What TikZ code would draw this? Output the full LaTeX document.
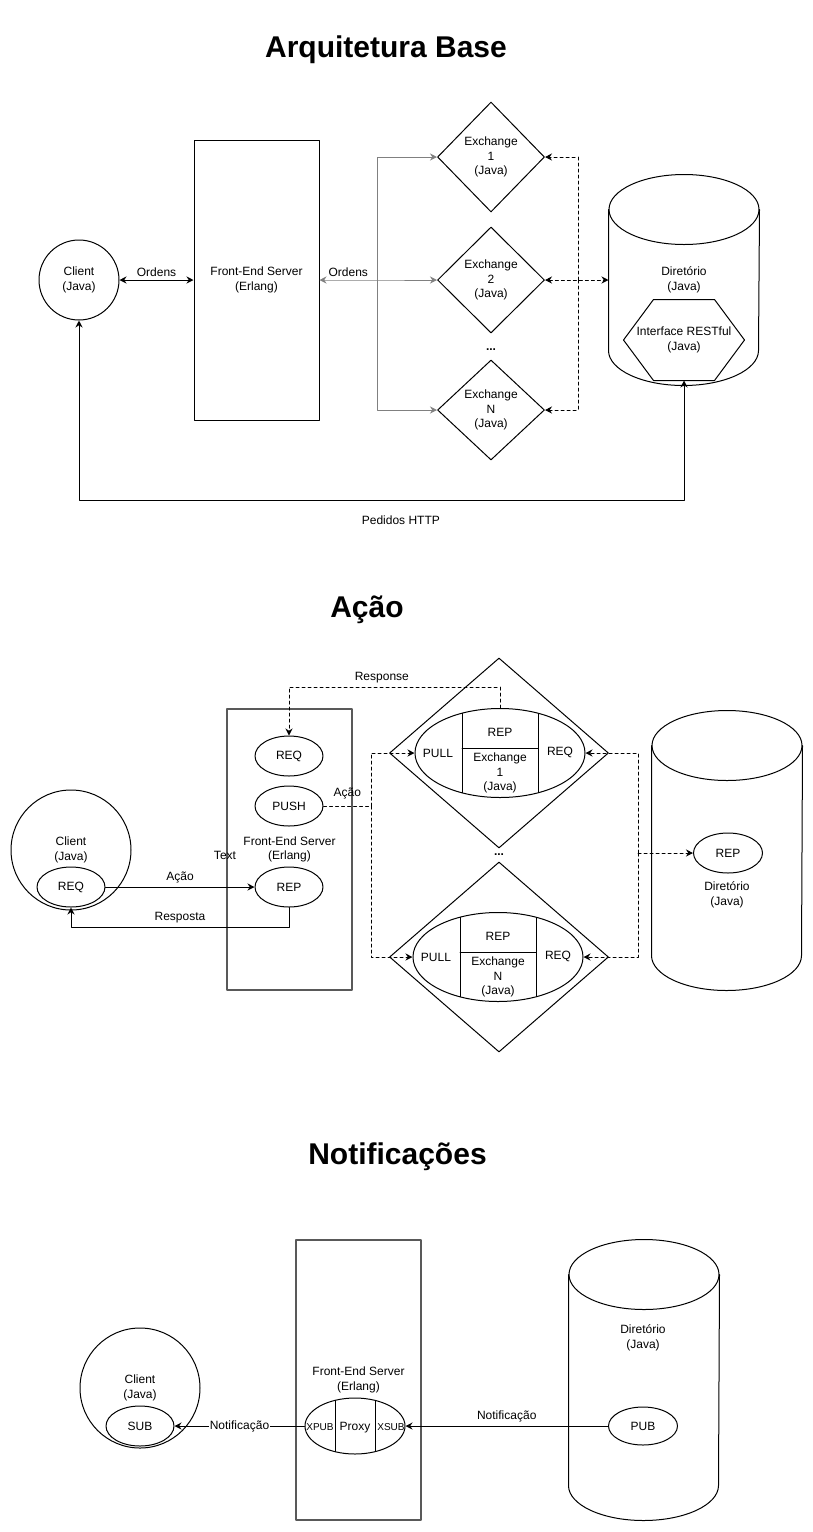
\documentclass[tikz,border=0pt]{standalone}
\usepackage{fontspec}
\setmainfont{Liberation Sans}
\usetikzlibrary{shapes.geometric,positioning,arrows.meta}
\begin{document}
\begin{tikzpicture}[>={Stealth[length=7pt,width=7pt]},line join=round,line cap=round,x=1pt,y=-1pt,line width=1pt,
	font=\fontsize{12}{14.5}\selectfont,
	titulo/.style={font=\fontsize{30}{36}\selectfont\bfseries,anchor=base},
	cliente/.style={draw,circle,minimum size=120pt,inner sep=0pt,align=center},
	servidor/.style={draw,rectangle,minimum width=125pt,minimum height=280pt,inner sep=0pt,align=center},
	caixa/.style={draw=black!65,line width=1.5pt},
	sock/.style={draw,ellipse,minimum width=68pt,minimum height=40pt,inner sep=0pt},
	troca/.style={draw,diamond,inner sep=0pt,align=center},
	cil/.style={rectangle,minimum width=150pt,inner sep=0pt,align=center}]
	\useasboundingbox (0,0) rectangle (812,1532);
	\def\ry{35}
	% Arquitetura Base
	\node[titulo] (tit1) at (386,57) {Arquitetura Base};
	\node[cliente,minimum size=80pt] (cliA) at (79,280) {Client\\(Java)};
	\node[servidor] (fesA) at (256.5,280) {Front-End Server\\(Erlang)};
	\node[troca,minimum width=107pt,minimum height=110pt] (ex1) at (491,157) {Exchange\\1\\(Java)};
	\node[troca,minimum width=107pt,minimum height=106pt] (ex2) at (491,280) {Exchange\\2\\(Java)};
	\node (dots1) at (491,350) {\textbf{...}};
	\node[troca,minimum width=107pt,minimum height=100pt] (exN) at (491,410) {Exchange\\N\\(Java)};
	\node[cil,minimum height=210pt] (dirA) at (684,280) {Diretório\\(Java)};
	\node[minimum width=120pt,minimum height=80pt,inner sep=0pt,align=center] (rest) at (684,340) {Interface RESTful\\(Java)};
	\draw (rest.west)--([xshift=30pt]rest.north west)--([xshift=-30pt]rest.north east)--(rest.east)
		--([xshift=-30pt]rest.south east)--([xshift=30pt]rest.south west)--cycle;
	\coordinate (esq) at (377,280);
	\coordinate (dir) at (578,280);
	\coordinate (http) at (684,500);
	\draw[<->] (cliA) -- node[above]{Ordens} (fesA);
	\draw[<->,gray] (fesA) -- node[above,black]{Ordens} (esq) -- (ex2);
	\draw[->,gray] (esq) |- (ex1);
	\draw[->,gray] (esq) |- (exN);
	\draw[<->,dashed] (ex2) -- (dir) -- (dirA);
	\draw[->,dashed] (dir) |- (ex1);
	\draw[->,dashed] (dir) |- (exN);
	\draw[<->] (cliA) |- node[pos=0.766,below=12pt]{Pedidos HTTP} (http) -- (rest);
	% Ação
	\node[titulo] (tit2) at (367,617) {Ação};
	\node[cliente] (cliB) at (71,850) {Client\\(Java)};
	\node[sock] (reqC) at (71,887) {REQ};
	\node[servidor,caixa,minimum height=281pt] (fesB) at (289.5,849.5) {Front-End Server\\(Erlang)};
	\node (txt) at (225,855) {Text};
	\node[sock] (reqF) at (289,756) {REQ};
	\node[sock] (push) at (289,806) {PUSH};
	\node[sock] (repF) at (289,887) {REP};
	\node[troca,minimum width=219pt,minimum height=190pt] (dm1) at (499,753) {};
	\node[troca,minimum width=219pt,minimum height=190pt] (dmN) at (499,957) {};
	\node (dots2) at (499,855) {\textbf{...}};
	\node[sock,minimum width=170pt,minimum height=89pt] (el1) at (500,753) {};
	\node[sock,minimum width=170pt,minimum height=89pt] (elN) at (498,957) {};
	\foreach \e/\n in {el1/1,elN/N}{
		\begin{scope}
			\clip (\e.center) ellipse [x radius=85,y radius=44.5];
			\draw ([xshift=-38pt]\e.north) -- ([xshift=-38pt]\e.south);
			\draw ([xshift=38pt]\e.north) -- ([xshift=38pt]\e.south);
			\draw ([xshift=-38pt,yshift=5pt]\e.center) -- ([xshift=38pt,yshift=5pt]\e.center);
		\end{scope}
		\node (\e-pull) at ([xshift=-62pt]\e.center) {PULL};
		\node (\e-rep) at ([yshift=21pt]\e.center) {REP};
		\node[align=center] (\e-ex) at ([yshift=-20pt]\e.center) {Exchange\\\n\\(Java)};
		\node (\e-req) at ([xshift=60pt,yshift=1pt]\e.center) {REQ};
	}
	\node[cil,minimum height=279pt] (dirB) at (727,850.5) {};
	\node[sock,minimum width=69pt] (repD) at (728,853) {REP};
	\node[align=center] (dirBt) at (727,895) {Diretório\\(Java)};
	\coordinate (resp) at (500,687);
	\coordinate (acao) at (371,806);
	\coordinate (dsp) at (638,853);
	\coordinate (volta) at (71,927);
	\draw[->] (reqC) -- node[above]{Ação} (repF);
	\draw[->] (repF) |- node[pos=0.75,above]{Resposta} (volta) -- (reqC);
	\draw[->,dashed] (el1.north) -- (resp) -| node[pos=0.28,above]{Response} (reqF);
	\draw[dashed] (push) -- node[above=3pt]{Ação} (acao);
	\draw[->,dashed] (acao) |- (el1.west);
	\draw[->,dashed] (acao) |- (elN.west);
	\draw[->,dashed] (dsp) |- (el1.east);
	\draw[->,dashed] (dsp) |- (elN.east);
	\draw[->,dashed] (dsp) -- (repD);
	% Notificações
	\node[titulo] (tit3) at (397.5,1164) {Notificações};
	\node[cliente] (cliC) at (140,1388) {Client\\(Java)};
	\node[sock] (sub) at (140,1426) {SUB};
	\node[servidor,caixa] (fesC) at (358.5,1380) {Front-End Server\\(Erlang)};
	\node[sock,minimum width=100pt,minimum height=56pt,text depth=0pt] (proxy) at (355,1426) {Proxy};
	\begin{scope}
		\clip (proxy.center) ellipse [x radius=50,y radius=28];
		\draw ([xshift=-20pt]proxy.north) -- ([xshift=-20pt]proxy.south);
		\draw ([xshift=20pt]proxy.north) -- ([xshift=20pt]proxy.south);
	\end{scope}
	\node[font=\fontsize{10}{12}\selectfont] (xpub) at (320,1427) {XPUB};
	\node[font=\fontsize{10}{12}\selectfont] (xsub) at (391,1427) {XSUB};
	\node[cil,minimum height=280pt] (dirC) at (644,1380) {};
	\node[align=center] (dirCt) at (643,1338) {Diretório\\(Java)};
	\node[sock,minimum width=69pt,minimum height=38pt] (pub) at (643,1426) {PUB};
	\draw[->] (proxy) -- node[fill=white,inner sep=1pt]{Notificação} (sub);
	\draw[->] (pub) -- node[above]{Notificação} (proxy);
	\foreach \d in {dirA,dirB,dirC}{
		\draw ([yshift=-\ry pt]\d.north west) -- ([yshift=\ry pt]\d.south west)
			arc [start angle=180,end angle=0,x radius=75,y radius=\ry] -- ([yshift=-\ry pt]\d.north east);
		\draw ([yshift=-\ry pt]\d.north) ellipse [x radius=75,y radius=\ry];
	}
\end{tikzpicture}
\end{document}
